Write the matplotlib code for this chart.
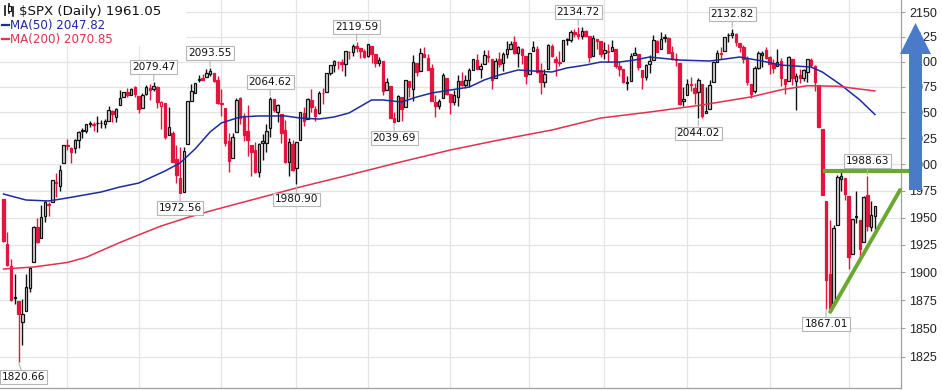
import numpy as np
import pandas as pd
import matplotlib
matplotlib.use('Agg')
import matplotlib.pyplot as plt
from matplotlib.patches import Rectangle, FancyArrow
from matplotlib.transforms import IdentityTransform
from matplotlib.ticker import FixedLocator, NullLocator, FuncFormatter

# ---------------- data ----------------
holidays = ['2014-11-27', '2014-12-25', '2015-01-01', '2015-01-19', '2015-02-16',
            '2015-04-03', '2015-05-25', '2015-07-03', '2015-09-07']
start_date = '2014-10-09'
end_date = '2015-09-11'
prev_close = 1968.89

opens = [1967.68, 1925.63, 1905.65, 1877.11, 1874.18, 1855.95, 1864.91, 1885.62, 1909.38, 1941.29,
         1931.02, 1951.59, 1962.97, 1964.14, 1983.29, 1979.49, 2001.20,
         2018.21, 2015.81, 2015.29, 2023.33, 2032.36, 2032.01, 2038.20, 2037.75, 2039.21, 2039.74,
         2038.29, 2041.48, 2051.16, 2045.87, 2057.46, 2065.07, 2070.15, 2067.36, 2074.78,
         2065.78, 2053.77, 2067.45, 2073.64, 2072.78, 2074.84, 2056.55, 2058.86, 2027.92, 2030.36,
         2005.03, 1986.71, 1973.77, 2018.98, 2061.04, 2069.28, 2081.48, 2083.25, 2084.30, 2087.63,
         2088.49, 2082.11,
         2058.90, 2054.44, 2022.15, 2005.55, 2030.61, 2063.45, 2046.13, 2031.58, 2018.40, 2013.75,
         1992.25, 2020.76, 2020.19, 2034.30, 2062.98, 2050.42, 2047.86, 2032.34, 2002.45, 2019.35,
         1996.67, 2022.71, 2048.86, 2043.45, 2062.28, 2053.47, 2049.38, 2068.55, 2069.98, 2088.78,
         2096.47, 2099.16, 2099.25, 2097.65, 2109.83, 2109.10, 2115.30, 2113.91, 2110.88,
         2105.23, 2115.76, 2107.72, 2098.54, 2100.91, 2072.25, 2076.14, 2044.69, 2041.10, 2064.56,
         2055.35, 2080.59, 2072.84, 2098.69, 2090.32, 2107.99, 2103.94, 2093.10, 2059.94, 2055.78,
         2064.11, 2084.05,
         2067.63, 2060.03, 2064.87, 2080.79, 2076.94, 2081.29, 2091.51, 2102.03, 2092.28, 2097.82,
         2105.96, 2102.58, 2084.11, 2102.82, 2098.27, 2107.21, 2112.80, 2119.29, 2108.35, 2112.49,
         2105.52,
         2087.38, 2110.23, 2112.63, 2091.26, 2079.96, 2092.13, 2115.56, 2102.87, 2099.62, 2100.43,
         2122.07, 2121.30, 2129.45, 2127.79, 2125.55, 2130.36, 2125.34, 2105.13, 2122.27, 2120.66,
         2108.64, 2110.41, 2110.64, 2112.35, 2095.09, 2092.34, 2079.07, 2081.13, 2106.24, 2107.43,
         2091.34, 2084.26, 2097.40, 2101.58, 2121.06, 2112.50, 2123.16, 2123.65, 2109.96, 2102.62,
         2098.63, 2061.19,
         2067.00, 2078.03, 2073.95, 2069.52, 2077.66, 2049.73, 2052.74, 2080.03, 2099.72, 2109.02,
         2110.55, 2126.80, 2126.85, 2127.55, 2118.21, 2114.16, 2102.24, 2078.19, 2070.75, 2093.41,
         2106.78, 2111.60,
         2104.49, 2097.68, 2095.27, 2100.75, 2082.61, 2080.98, 2102.66, 2081.10, 2086.19, 2083.15,
         2089.70, 2101.99, 2095.69, 2076.61, 2034.08, 1965.15, 1898.08, 1872.75, 1942.77, 1986.06,
         1986.73,
         1970.09, 1916.52, 1950.79, 1947.76, 1927.30, 1971.45, 1941.59, 1951.45]

highs = [1967.68, 1936.98, 1912.09, 1898.71, 1874.18, 1876.01, 1898.16, 1905.03, 1942.45, 1949.31,
         1961.95, 1965.27, 1964.64, 1985.05, 1991.40, 1999.40, 2018.19,
         2024.46, 2015.98, 2023.77, 2031.61, 2034.26, 2038.70, 2041.28, 2040.33, 2046.18, 2042.22,
         2043.07, 2056.08, 2052.14, 2053.84, 2071.46, 2070.17, 2074.21, 2073.29, 2075.76,
         2065.78, 2068.77, 2076.28, 2077.34, 2079.47, 2075.78, 2060.60, 2058.86, 2055.53, 2032.25,
         2018.69, 2016.89, 2016.75, 2061.23, 2077.85, 2078.76, 2086.73, 2087.56, 2092.70, 2093.55,
         2088.49, 2085.58,
         2072.36, 2054.44, 2030.25, 2029.61, 2064.08, 2064.43, 2049.30, 2056.93, 2018.40, 2021.35,
         2020.46, 2028.94, 2038.29, 2064.62, 2062.98, 2057.62, 2047.86, 2042.49, 2024.64, 2023.32,
         2021.66, 2050.30, 2054.74, 2063.55, 2072.40, 2056.16, 2070.86, 2073.48, 2088.53, 2097.03,
         2101.30, 2100.23, 2102.13, 2110.61, 2110.05, 2117.94, 2119.59, 2113.91, 2112.74,
         2117.52, 2115.76, 2107.72, 2104.25, 2100.91, 2083.49, 2076.14, 2050.08, 2066.41, 2064.56,
         2081.41, 2080.59, 2106.85, 2098.69, 2113.92, 2114.86, 2107.63, 2097.43, 2067.15, 2062.83,
         2088.97, 2084.05,
         2067.63, 2072.17, 2086.99, 2089.81, 2086.69, 2093.31, 2102.61, 2107.65, 2098.62, 2111.91,
         2111.30, 2102.58, 2103.94, 2109.64, 2109.98, 2120.49, 2120.92, 2125.92, 2116.04, 2113.65,
         2105.52,
         2108.41, 2120.95, 2115.24, 2098.42, 2092.90, 2117.66, 2117.69, 2105.06, 2110.19, 2121.45,
         2123.89, 2131.78, 2133.02, 2134.72, 2134.28, 2132.15, 2125.34, 2126.22, 2122.27, 2120.66,
         2119.15, 2117.59, 2121.92, 2112.89, 2100.99, 2093.01, 2085.62, 2108.50, 2115.02, 2107.43,
         2091.34, 2097.40, 2106.79, 2126.65, 2121.64, 2129.87, 2128.03, 2125.10, 2116.04, 2108.92,
         2098.63, 2074.28,
         2082.78, 2085.06, 2078.61, 2083.74, 2077.66, 2074.28, 2081.31, 2100.67, 2111.98, 2114.14,
         2124.42, 2128.91, 2132.82, 2128.49, 2118.51, 2116.87, 2106.01, 2078.19, 2095.60, 2110.60,
         2110.48, 2114.24,
         2105.70, 2102.51, 2112.66, 2103.32, 2082.61, 2105.35, 2102.66, 2089.06, 2092.93, 2092.45,
         2102.87, 2103.47, 2096.17, 2076.61, 2034.08, 1965.15, 1948.04, 1943.09, 1989.60, 1993.48,
         1986.73,
         1970.09, 1948.91, 1975.01, 1947.76, 1970.42, 1988.63, 1965.29, 1961.05]

lows = [1927.56, 1906.05, 1874.14, 1871.79, 1820.66, 1835.02, 1864.91, 1882.30, 1909.38, 1926.83,
        1931.02, 1946.27, 1951.37, 1964.14, 1969.04, 1974.75, 2001.20,
        2013.68, 2001.01, 2010.72, 2015.86, 2025.07, 2030.17, 2035.28, 2031.95, 2030.44, 2035.20,
        2034.46, 2041.48, 2040.37, 2040.49, 2056.75, 2065.07, 2064.75, 2066.62, 2065.06,
        2049.57, 2053.77, 2066.65, 2062.34, 2070.81, 2054.27, 2034.17, 2024.26, 2027.92, 2002.33,
        1982.26, 1972.56, 1973.77, 2018.98, 2061.03, 2069.28, 2079.77, 2081.86, 2084.30, 2085.75,
        2079.53, 2057.94,
        2046.04, 2017.34, 1992.44, 2005.55, 2030.61, 2038.33, 2022.58, 2008.25, 1988.44, 1991.47,
        1988.12, 2004.49, 2012.04, 2026.38, 2050.54, 2040.97, 2019.91, 2001.49, 1989.18, 1993.38,
        1980.90, 2022.71, 2036.72, 2043.45, 2049.97, 2041.88, 2048.62, 2057.99, 2069.98, 2086.70,
        2089.80, 2092.15, 2090.79, 2085.44, 2103.00, 2105.87, 2109.89, 2103.76, 2103.75,
        2104.50, 2098.26, 2094.49, 2095.22, 2067.27, 2072.21, 2044.16, 2039.69, 2041.10, 2041.17,
        2055.35, 2065.08, 2061.23, 2085.56, 2090.32, 2104.42, 2091.50, 2061.05, 2045.50, 2052.96,
        2064.11, 2067.04,
        2048.38, 2057.32, 2056.52, 2076.10, 2073.30, 2074.29, 2091.51, 2092.33, 2083.24, 2097.82,
        2100.02, 2072.37, 2084.11, 2094.38, 2091.05, 2103.19, 2112.80, 2107.04, 2094.89, 2097.41,
        2077.59,
        2087.38, 2110.23, 2088.46, 2067.93, 2074.99, 2092.13, 2104.58, 2085.57, 2096.04, 2100.43,
        2116.81, 2120.01, 2124.50, 2122.59, 2122.95, 2126.06, 2099.18, 2105.13, 2112.86, 2104.89,
        2102.54, 2099.14, 2110.64, 2093.23, 2085.67, 2079.11, 2072.14, 2081.13, 2106.24, 2091.33,
        2072.49, 2082.10, 2088.86, 2101.58, 2109.45, 2112.50, 2119.89, 2108.58, 2101.78, 2095.38,
        2056.64, 2056.32,
        2067.00, 2071.02, 2058.40, 2044.02, 2044.66, 2049.73, 2052.74, 2080.03, 2099.72, 2102.49,
        2110.55, 2119.88, 2123.66, 2115.40, 2110.00, 2098.63, 2077.09, 2063.52, 2069.09, 2092.50,
        2094.08, 2102.07,
        2087.31, 2088.60, 2095.27, 2075.53, 2067.91, 2080.98, 2076.49, 2052.09, 2078.26, 2080.61,
        2079.30, 2094.14, 2070.53, 2035.73, 1970.89, 1867.01, 1867.08, 1872.75, 1942.77, 1975.19,
        1965.98,
        1903.07, 1916.52, 1944.72, 1911.21, 1927.30, 1937.88, 1937.19, 1939.19]

closes = [1928.21, 1906.13, 1874.74, 1877.70, 1862.49, 1862.76, 1886.76, 1904.01, 1941.28, 1927.11,
          1950.82, 1964.58, 1961.63, 1985.05, 1982.30, 1994.65, 2018.05,
          2017.81, 2012.10, 2023.57, 2031.21, 2031.92, 2038.26, 2039.68, 2038.25, 2039.33, 2039.82,
          2041.32, 2051.80, 2048.72, 2052.75, 2063.50, 2069.41, 2067.03, 2072.83, 2067.56,
          2053.44, 2066.55, 2074.33, 2071.92, 2075.37, 2060.31, 2059.82, 2026.14, 2035.33, 2002.33,
          1989.63, 1972.74, 2012.89, 2061.23, 2070.65, 2078.54, 2082.17, 2081.88, 2088.77, 2090.57,
          2080.35, 2058.90,
          2058.20, 2020.58, 2002.61, 2025.90, 2062.14, 2044.81, 2028.26, 2023.03, 2011.27, 1992.67,
          2019.42, 2022.55, 2032.12, 2063.15, 2051.82, 2057.09, 2029.55, 2002.16, 2021.25, 1994.99,
          2020.85, 2050.03, 2041.51, 2062.52, 2055.47, 2046.74, 2068.59, 2068.53, 2088.48, 2096.99,
          2100.34, 2099.68, 2097.45, 2110.30, 2109.66, 2115.48, 2113.86, 2110.74, 2104.50,
          2117.39, 2107.78, 2098.53, 2101.04, 2071.26, 2079.43, 2044.16, 2040.24, 2065.95, 2053.40,
          2081.19, 2074.28, 2099.50, 2089.27, 2108.10, 2104.42, 2091.50, 2061.05, 2056.15, 2061.02,
          2086.24, 2067.89,
          2059.69, 2066.96, 2080.62, 2076.33, 2081.90, 2091.18, 2102.06, 2092.43, 2095.84, 2106.63,
          2104.99, 2081.18, 2100.40, 2097.29, 2107.96, 2112.93, 2117.69, 2108.92, 2114.76, 2106.85,
          2085.51,
          2108.29, 2114.49, 2089.46, 2080.15, 2088.00, 2116.10, 2105.33, 2099.94, 2098.48, 2121.10,
          2122.73, 2129.20, 2127.83, 2125.85, 2130.82, 2126.06, 2104.20, 2123.48, 2120.79, 2107.39,
          2111.73, 2109.60, 2114.07, 2095.84, 2092.83, 2079.28, 2080.15, 2105.20, 2108.86, 2094.11,
          2084.43, 2096.29, 2100.44, 2121.24, 2109.99, 2122.85, 2124.20, 2108.58, 2102.31, 2101.49,
          2057.64, 2063.11,
          2077.42, 2076.78, 2068.76, 2081.34, 2046.68, 2051.31, 2076.62, 2099.60, 2108.95, 2107.40,
          2124.29, 2126.64, 2128.28, 2119.21, 2114.15, 2102.15, 2079.65, 2067.64, 2093.25, 2108.57,
          2108.63, 2103.84,
          2098.04, 2093.32, 2099.84, 2083.56, 2077.57, 2104.18, 2084.07, 2086.05, 2083.39, 2091.54,
          2102.44, 2096.92, 2079.61, 2035.73, 1970.89, 1893.21, 1867.61, 1940.51, 1987.66, 1988.87,
          1972.18,
          1913.85, 1948.86, 1951.13, 1921.22, 1969.41, 1942.04, 1952.29, 1961.05]

# moving averages (trading-day index, value)
ma50_idx = [0, 6, 12, 17, 26, 31, 36, 43, 47, 51, 55, 58, 63, 68, 75, 79, 84, 88, 92, 98, 101,
            106, 110, 114, 119, 124, 128, 132, 137, 141, 146, 150, 155, 159, 164, 168, 172, 180,
            188, 196, 202, 207, 215, 218, 223, 228, 232]
ma50_val = [1971.9, 1966.3, 1965.4, 1968.2, 1973.8, 1978.5, 1982.2, 1993.6, 2001.2, 2014.5, 2030.9,
            2039.6, 2045.4, 2046.4, 2046.4, 2044.4, 2043.4, 2045.4, 2049.3, 2062.0, 2062.0, 2060.0,
            2064.9, 2068.8, 2071.8, 2074.7, 2081.7, 2086.6, 2091.6, 2090.6, 2089.6, 2093.6, 2096.5,
            2099.5, 2099.5, 2101.5, 2104.5, 2101.5, 2100.5, 2104.5, 2100.5, 2096.5, 2094.5, 2089.6,
            2076.7, 2062.0, 2047.82]
ma200_idx = [0, 8, 17, 22, 26, 31, 36, 42, 49, 56, 66, 79, 92, 105, 119, 132, 146, 159, 172, 186,
             199, 207, 214, 222, 232]
ma200_val = [1902.9, 1904.7, 1908.8, 1913.5, 1919.5, 1927.0, 1934.0, 1942.2, 1950.0, 1957.0,
             1966.3, 1978.5, 1989.8, 2001.5, 2013.6, 2023.2, 2032.8, 2044.4, 2050.2, 2057.1,
             2065.0, 2072.0, 2076.0, 2075.5, 2070.85]

# annotated swing points: (index, 'H' for high / 'L' for low)
label_idx = [4, 40, 47, 55, 71, 78, 94, 104, 153, 185, 194, 219, 230]
label_kind = ['L', 'H', 'L', 'H', 'H', 'L', 'H', 'L', 'H', 'L', 'H', 'L', 'H']

# hand-drawn trend lines (index, price)
resist_x = [218.2, 241.6]
resist_y = [1994.0, 1994.0]
support_x = [220.1, 238.7]
support_y = [1864.5, 1975.7]

yticks = list(range(1825, 2151, 25))

# ---------------- figure ----------------
W, H = 942, 390
fig = plt.figure(figsize=(W / 100, H / 100), dpi=100)
fig.patch.set_facecolor('white')
ax = fig.add_axes([0, 2 / H, 901 / W, 388 / H])
ax.set_facecolor('white')

dates = pd.bdate_range(start_date, end_date)
dates = dates[~dates.isin(pd.to_datetime(holidays))]
n = len(closes)

ax.set_yscale('log')
ax.set_ylim(1798.3, 2162.3)
ax.set_xlim(-0.93, 238.95)

# grid
for t in yticks:
    ax.axhline(t, color='#e4e4e4', lw=0.9, zorder=0)
months = np.array([d.month for d in dates])
month_starts = [i for i in range(1, len(months)) if months[i] != months[i - 1]]
for m in month_starts:
    ax.axvline(m, color='#e4e4e4', lw=0.9, zorder=0)

RED = '#e2153f'
BLACK = '#111111'
HOLLOW = '#d9d9d9'
bw = 0.66
for i in range(n):
    o, h, l, c = opens[i], highs[i], lows[i], closes[i]
    pc = prev_close if i == 0 else closes[i - 1]
    col = BLACK if c >= pc else RED
    ax.plot([i, i], [l, h], color=col, lw=1.0, zorder=2, solid_capstyle='butt')
    if c > o:
        rect = Rectangle((i - bw / 2, o), bw, c - o, facecolor=HOLLOW if col == BLACK else 'white',
                         edgecolor=col, lw=0.9, zorder=3)
    else:
        rect = Rectangle((i - bw / 2, c), bw, max(o - c, 0.3), facecolor=col,
                         edgecolor=col, lw=0.9, zorder=3)
    ax.add_patch(rect)

ax.plot(ma50_idx, ma50_val, color='#1c2b9e', lw=1.1, zorder=4)
ax.plot(ma200_idx, ma200_val, color='#e3304f', lw=1.1, zorder=4)

# swing labels
for i, k in zip(label_idx, label_kind):
    val = highs[i] if k == 'H' else lows[i]
    off = 15 if k == 'H' else -15
    xoff = 5 if i < 6 else 0
    ax.annotate(f'{val:.2f}', xy=(i, val), xytext=(xoff, off), textcoords='offset pixels',
                ha='center', va='center', fontsize=7.6, color='#111111',
                family='DejaVu Sans',
                bbox=dict(boxstyle='square,pad=0.18', fc='white', ec='#b5b5b5', lw=0.8),
                arrowprops=dict(arrowstyle='-', color='#b5b5b5', lw=0.8, shrinkA=0, shrinkB=1),
                zorder=6)

# trend lines
ax.plot(resist_x, resist_y, color='#6aa830', lw=3.0, zorder=5, clip_on=False,
        solid_capstyle='butt')
ax.plot(support_x, support_y, color='#6aa830', lw=2.8, zorder=5, clip_on=False,
        solid_capstyle='round')

# axes styling
for s in ['left', 'top']:
    ax.spines[s].set_visible(False)
for s in ['right', 'bottom']:
    ax.spines[s].set_color('#a0a0a0')
    ax.spines[s].set_linestyle((0, (1, 1)))
    ax.spines[s].set_linewidth(0.9)
ax.yaxis.tick_right()
ax.yaxis.set_major_locator(FixedLocator(yticks))
ax.yaxis.set_minor_locator(NullLocator())
ax.yaxis.set_major_formatter(FuncFormatter(lambda v, p: f'{int(round(v))}'))
ax.tick_params(axis='y', which='major', length=3, color='#a0a0a0', pad=3,
               labelsize=9, labelcolor='#222222')
for lab in ax.get_yticklabels():
    lab.set_family('Liberation Sans')
ax.set_xticks([])

# legend block
fig.add_artist(Rectangle((0, H - 46), 186, 46, transform=IdentityTransform(),
                         facecolor='white', edgecolor='none', zorder=1))
fig.text(19 / W, 1 - 11 / H, f'$SPX (Daily) {closes[-1]:.2f}', fontsize=9.6,
         color='#111111', va='center', ha='left', family='DejaVu Sans', zorder=3)
# small chart icon
for dx, y0, y1 in [(5, 6, 15), (9, 4, 13), (13, 7, 16)]:
    fig.add_artist(plt.Line2D([dx, dx], [H - y1, H - y0], transform=IdentityTransform(),
                              color='#111111', lw=1.2, zorder=3))
fig.add_artist(Rectangle((8, H - 11), 3, 5, transform=IdentityTransform(),
                         facecolor='white', edgecolor='#111111', lw=0.8, zorder=4))
fig.add_artist(plt.Line2D([2, 9], [H - 25, H - 25], transform=IdentityTransform(),
                          color='#1c2b9e', lw=1.6, zorder=3))
fig.text(10 / W, 1 - 25 / H, f'MA(50) {ma50_val[-1]:.2f}', fontsize=8.6, color='#1c2b9e',
         va='center', ha='left', family='DejaVu Sans', zorder=3)
fig.add_artist(plt.Line2D([2, 9], [H - 39, H - 39], transform=IdentityTransform(),
                          color='#e3304f', lw=1.6, zorder=3))
fig.text(10 / W, 1 - 39 / H, f'MA(200) {ma200_val[-1]:.2f}', fontsize=8.6, color='#e3304f',
         va='center', ha='left', family='DejaVu Sans', zorder=3)

# blue arrow
fig.add_artist(FancyArrow(915.5, H - 190, 0, 190 - 23, width=13, head_width=31,
                          head_length=31, length_includes_head=True,
                          transform=IdentityTransform(), facecolor='#4a7bc8',
                          edgecolor='none', zorder=10))

fig.savefig('out.png', dpi=100, facecolor='white')
